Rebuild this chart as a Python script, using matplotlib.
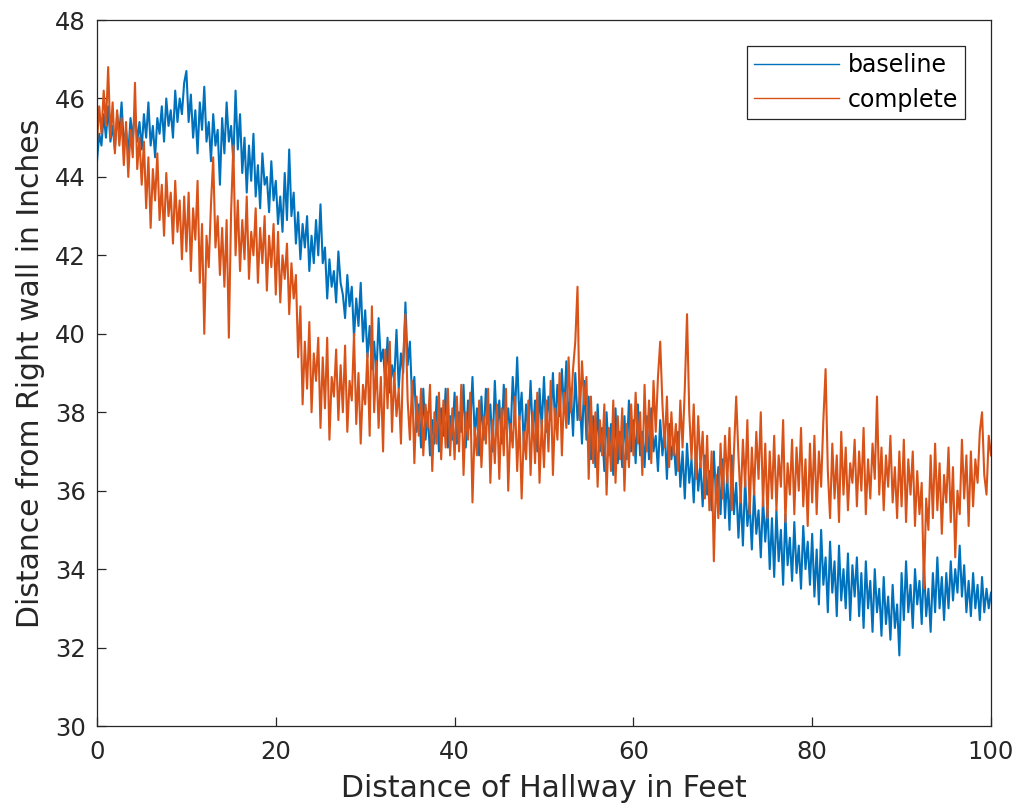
import numpy as np
import matplotlib.pyplot as plt

# distance along the hallway (feet), one reading every quarter foot
feet = np.linspace(0, 100, 401)

# distance from the right wall (inches), 5 ft per row
baseline = [
    44.4, 45.1, 44.8, 45.6, 45.0, 45.8, 44.9, 45.3, 44.7, 45.6, 45.1, 45.9, 44.8, 45.2, 44.6, 45.5, 45.0, 45.7, 44.9, 45.4,
    44.7, 45.6, 45.0, 45.9, 44.8, 45.3, 44.5, 45.5, 45.1, 45.8, 44.9, 46.0, 45.3, 45.7, 45.0, 46.2, 45.4, 46.0, 45.6, 46.4,
    46.7, 45.4, 46.1, 45.0, 45.7, 44.6, 45.9, 45.2, 46.3, 44.9, 45.4, 44.4, 45.6, 44.8, 45.2, 43.8, 45.5, 44.6, 45.9, 44.9,
    45.3, 44.4, 46.2, 44.7, 45.6, 44.1, 45.0, 43.6, 44.8, 43.9, 45.1, 43.5, 44.3, 43.2, 44.6, 43.8, 44.0, 43.1, 44.4, 43.4,
    43.9, 42.8, 43.5, 42.6, 44.1, 42.9, 44.7, 43.0, 43.6, 42.3, 43.1, 41.9, 42.8, 42.2, 43.0, 41.6, 42.5, 41.8, 42.9, 42.0,
    43.3, 41.8, 42.2, 40.9, 41.9, 41.2, 41.6, 40.8, 42.1, 41.3, 41.0, 40.4, 41.5, 40.7, 41.2, 39.9, 40.9, 40.2, 41.3, 39.8,
    40.6, 39.4, 40.2, 39.1, 39.8, 38.9, 40.4, 39.3, 39.6, 38.7, 39.9, 38.5, 39.2, 38.8, 40.1, 38.6, 39.5, 39.0, 40.8, 39.2,
    39.8, 38.3, 38.9, 37.5, 38.2, 37.1, 38.6, 37.3, 38.0, 36.9, 37.8, 37.2, 38.4, 37.0, 38.1, 37.4, 38.6, 37.1, 37.9, 37.3,
    38.5, 37.2, 38.0, 37.5, 38.7, 37.1, 38.3, 37.6, 38.9, 37.4, 38.1, 36.9, 38.4, 37.3, 38.6, 37.7, 38.2, 37.0, 38.8, 37.5,
    38.3, 37.2, 38.7, 37.6, 38.1, 37.3, 38.9, 37.9, 39.4, 37.8, 38.5, 37.1, 38.2, 37.5, 38.8, 37.4, 38.3, 37.0, 38.6, 37.6,
    38.9, 37.5, 38.4, 37.8, 39.0, 37.6, 38.7, 37.9, 39.1, 38.0, 39.3, 37.7, 38.6, 37.4, 39.0, 37.8, 38.4, 37.2, 38.8, 37.3,
    38.4, 36.8, 37.9, 36.6, 38.2, 37.0, 37.6, 36.5, 38.0, 36.9, 37.7, 36.4, 38.1, 36.7, 37.5, 36.6, 37.9, 36.8, 38.3, 37.0,
    37.8, 36.7, 38.2, 36.9, 37.5, 36.6, 37.9, 36.8, 38.1, 37.0, 37.4, 36.5, 37.8, 36.9, 37.6, 36.3, 37.7, 36.8, 37.3, 36.4,
    37.5, 36.1, 37.0, 35.8, 37.2, 36.2, 36.8, 35.7, 37.1, 36.0, 36.7, 35.6, 36.9, 35.9, 36.5, 35.5, 37.0, 35.8, 36.6, 35.4,
    36.8, 35.3, 36.4, 35.0, 36.9, 35.4, 36.2, 34.8, 35.9, 34.6, 36.3, 35.1, 35.7, 34.5, 36.0, 34.9, 35.5, 34.3, 35.8, 34.7,
    35.6, 34.0, 35.3, 33.8, 35.5, 34.2, 35.0, 33.6, 35.4, 34.1, 34.8, 33.7, 35.2, 33.9, 34.6, 33.5, 35.1, 34.0, 34.7, 33.6,
    34.9, 33.3, 34.5, 33.1, 35.0, 33.6, 34.3, 32.9, 34.7, 33.4, 34.2, 32.8, 34.6, 33.2, 34.0, 33.0, 34.4, 32.7, 34.1, 33.3,
    34.3, 32.8, 33.9, 32.5, 34.2, 33.0, 33.7, 32.4, 34.0, 32.9, 33.5, 32.3, 33.8, 32.6, 33.3, 32.2, 33.6, 32.5, 33.1, 31.8,
    33.9, 32.7, 34.2, 32.9, 33.6, 32.5, 34.0, 33.1, 33.7, 32.6, 34.1, 32.8, 33.5, 32.4, 33.9, 32.9, 34.3, 33.0, 33.8, 32.7,
    33.9, 33.0, 34.2, 33.2, 34.0, 33.4, 34.6, 33.3, 34.1, 32.9, 33.7, 32.8, 33.9, 33.0, 33.6, 32.7, 33.8, 32.9, 33.5, 33.0,
    33.4,
]

complete = [
    44.9, 45.8, 45.1, 46.2, 45.3, 46.8, 45.0, 45.9, 44.6, 45.7, 44.8, 45.5, 44.3, 45.4, 44.0, 45.2, 44.5, 46.4, 44.2, 45.0,
    43.8, 44.9, 43.2, 44.5, 42.7, 44.2, 43.4, 44.6, 42.9, 43.8, 42.5, 44.1, 43.0, 43.6, 42.3, 43.9, 42.6, 43.4, 41.9, 43.5,
    42.1, 43.6, 41.6, 43.2, 42.4, 43.9, 41.3, 42.8, 40.0, 42.5, 41.7, 43.3, 44.5, 42.2, 43.0, 41.5, 42.7, 41.2, 42.9, 39.9,
    43.1, 44.8, 42.0, 43.4, 41.6, 42.9, 41.9, 43.5, 41.4, 42.6, 42.0, 43.2, 41.3, 42.7, 41.8, 43.0, 41.1, 42.5, 41.7, 42.8,
    41.0, 42.6, 40.8, 42.0, 41.4, 42.3, 40.5, 41.8, 40.9, 41.5, 39.4, 40.7, 38.2, 39.8, 38.6, 40.3, 38.0, 39.5, 38.8, 39.9,
    37.6, 39.4, 38.1, 39.9, 37.3, 38.9, 38.4, 39.6, 37.8, 39.2, 38.0, 39.7, 37.5, 38.8, 38.3, 40.0, 37.7, 39.0, 37.2, 38.7,
    38.2, 39.5, 37.4, 40.7, 38.0, 39.3, 37.6, 38.9, 37.0, 39.6, 38.1, 39.8, 37.5, 39.0, 37.9, 38.6, 37.2, 39.4, 40.5, 38.3,
    37.3, 38.8, 36.7, 38.4, 37.4, 38.6, 36.9, 38.2, 37.6, 38.7, 36.5, 38.0, 37.2, 38.5, 36.8, 38.3, 37.1, 38.6, 36.9, 38.1,
    36.8, 38.4, 37.0, 38.7, 36.4, 38.0, 37.3, 38.5, 35.7, 37.6, 36.9, 38.3, 36.6, 37.9, 37.2, 38.6, 36.2, 37.8, 36.7, 38.2,
    36.3, 38.1, 36.9, 38.6, 36.0, 37.7, 37.1, 38.4, 36.5, 37.9, 35.8, 37.5, 36.8, 38.3, 36.4, 38.0, 36.7, 38.5, 36.2, 37.8,
    36.6, 38.3, 37.0, 38.8, 36.4, 38.1, 37.3, 39.0, 36.9, 38.5, 37.6, 39.4, 38.0, 39.1, 39.8, 41.2, 37.8, 39.3, 38.2, 38.9,
    36.3, 38.4, 36.7, 38.0, 36.1, 37.8, 36.9, 38.2, 35.9, 37.6, 36.5, 38.3, 36.2, 37.9, 36.8, 38.1, 36.0, 37.7, 36.6, 38.2,
    36.9, 38.5, 37.2, 38.0, 36.4, 38.7, 37.0, 38.3, 36.7, 38.8, 37.5, 38.9, 39.8, 38.2, 37.1, 38.4, 36.6, 38.0, 36.9, 37.7,
    36.5, 38.3, 37.1, 38.6, 40.5, 38.0, 36.8, 38.2, 36.3, 37.9, 36.6, 37.5, 35.8, 37.4, 35.5, 37.0, 34.2, 36.4, 35.3, 37.2,
    35.8, 37.4, 36.2, 37.6, 35.5, 37.0, 38.4, 36.9, 35.7, 37.3, 36.1, 37.8, 35.4, 37.1, 35.9, 37.5, 36.3, 38.0, 35.6, 37.2,
    35.3, 37.0, 35.8, 37.4, 35.5, 36.9, 36.1, 37.8, 35.2, 36.7, 35.9, 37.3, 35.4, 37.1, 36.0, 37.6, 35.6, 36.8, 35.1, 37.2,
    35.7, 37.4, 35.4, 37.0, 36.1, 37.8, 39.1, 36.5, 35.3, 37.2, 35.8, 36.9, 35.2, 37.5, 35.9, 37.1, 35.5, 36.7, 36.2, 37.3,
    35.6, 37.0, 36.0, 37.6, 35.4, 36.8, 35.8, 37.2, 36.3, 38.4, 35.9, 37.1, 35.5, 36.9, 36.1, 37.4, 35.7, 36.6, 35.3, 37.0,
    35.6, 37.3, 35.2, 36.8, 35.9, 37.0, 35.1, 36.5, 35.4, 36.2, 33.5, 35.8, 35.0, 36.9, 35.3, 37.2, 35.5, 36.7, 34.9, 36.4,
    35.7, 37.1, 35.2, 36.6, 34.3, 36.0, 35.4, 37.3, 35.8, 36.9, 35.1, 37.0, 35.6, 36.8, 36.2, 37.5, 38.0, 36.4, 35.9, 37.4,
    36.9,
]

fig = plt.figure(figsize=(10.21, 8.11), dpi=100)
ax = fig.add_axes([0.095, 0.1048, 0.8756, 0.8705])

ax.plot(feet, baseline, color='#0072BD', lw=1.5, label='baseline')
ax.plot(feet, complete, color='#D95319', lw=1.5, label='complete')

ax.set_xlim(0, 100)
ax.set_ylim(30, 48)
ax.set_xticks(np.arange(0, 101, 20))
ax.set_yticks(np.arange(30, 49, 2))

axis_col = '#262626'
for s in ax.spines.values():
    s.set_color(axis_col)
    s.set_linewidth(0.9)
ax.tick_params(direction='in', length=6.5, width=0.9, colors=axis_col, labelsize=17.5)
ax.tick_params(axis='x', pad=10)
ax.tick_params(axis='y', pad=8)

ax.set_xlabel('Distance of Hallway in Feet', fontsize=21.5, color=axis_col, labelpad=7)
ax.set_ylabel('Distance from Right wall in Inches', fontsize=21.5, color=axis_col, labelpad=7)

leg = ax.legend(loc='upper right', fontsize=17, fancybox=False, framealpha=1,
                edgecolor=axis_col, handlelength=3.6, handletextpad=0.35,
                labelspacing=0.45, borderpad=0.3, borderaxespad=1.1)
leg.get_frame().set_linewidth(0.9)
for line in leg.get_lines():
    line.set_linewidth(1.0)

fig.savefig('out.png', dpi=100)
